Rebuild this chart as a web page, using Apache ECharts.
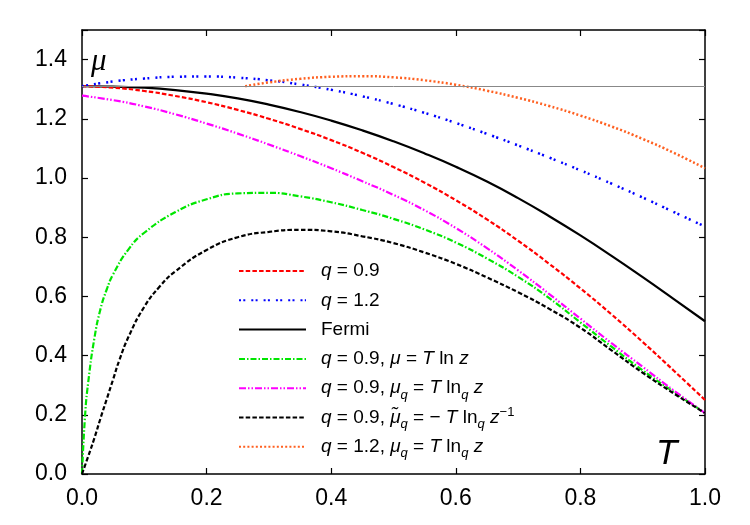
<!DOCTYPE html>
<html>
<head>
<meta charset="utf-8">
<script src="https://cdn.jsdelivr.net/npm/echarts@6/dist/echarts.min.js"></script>
<style>
html,body{margin:0;padding:0;background:#fff;}
#chart{width:750px;height:525px;}
</style>
</head>
<body>
<div id="chart"></div>
<script>
// ---------- data ----------
const fermiLevel = 1.311;
const T_main = [0,0.05,0.1,0.15,0.2,0.25,0.3,0.35,0.4,0.45,0.5,0.55,0.6,0.65,0.7,0.75,0.8,0.85,0.9,0.95,1.0];
const mu_q09   = [1.310,1.305,1.294,1.277,1.256,1.230,1.200,1.166,1.128,1.085,1.037,0.984,0.925,0.860,0.788,0.710,0.627,0.539,0.446,0.349,0.250];
const mu_q12   = [1.310,1.326,1.336,1.342,1.343,1.339,1.330,1.316,1.298,1.276,1.250,1.220,1.186,1.149,1.110,1.069,1.026,0.981,0.934,0.885,0.836];
const mu_fermi = [1.310,1.309,1.305,1.297,1.285,1.269,1.248,1.223,1.194,1.161,1.124,1.083,1.038,0.988,0.932,0.871,0.806,0.737,0.665,0.591,0.516];
const mu_q09_muq = [1.278,1.263,1.242,1.215,1.184,1.150,1.113,1.074,1.033,0.989,0.943,0.891,0.831,0.763,0.688,0.608,0.525,0.442,0.362,0.282,0.206];

const T_green = [0,0.005,0.01,0.02,0.03,0.04,0.05,0.075,0.1,0.15,0.2,0.25,0.3,0.35,0.4,0.45,0.5,0.55,0.6,0.65,0.7,0.75,0.8,0.85,0.9,0.95,1.0];
const mu_q09_lnz = [0.0,0.20,0.31,0.46,0.56,0.625,0.675,0.760,0.815,0.885,0.928,0.948,0.950,0.938,0.918,0.892,0.862,0.826,0.782,0.728,0.666,0.594,0.512,0.430,0.350,0.277,0.206];

const T_tilde = [0,0.01,0.02,0.03,0.04,0.05,0.06,0.075,0.1,0.125,0.15,0.2,0.25,0.3,0.35,0.4,0.45,0.5,0.55,0.6,0.65,0.7,0.75,0.8,0.85,0.9,0.95,1.0];
const mu_q09_tilde = [0.0,0.06,0.122,0.19,0.255,0.32,0.385,0.465,0.565,0.634,0.685,0.757,0.800,0.818,0.825,0.820,0.803,0.780,0.748,0.710,0.664,0.614,0.558,0.494,0.418,0.342,0.272,0.206];

const T_orange = [0.262,0.3,0.35,0.4,0.45,0.5,0.55,0.6,0.65,0.7,0.75,0.8,0.85,0.9,0.95,1.0];
const mu_q12_muq = [1.310,1.323,1.335,1.342,1.344,1.340,1.330,1.315,1.295,1.271,1.243,1.211,1.174,1.132,1.085,1.033];

const xTicks = [0,0.2,0.4,0.6,0.8,1.0];
const yTicks = [0,0.2,0.4,0.6,0.8,1.0,1.2,1.4];

const names = ['q09','q12','fermi','q09lnz','q09muq','q09tilde','q12muq'];
const legendText = {
  q09: '{s| }{i|q} = 0.9',
  q12: '{s| }{i|q} = 1.2',
  fermi: '{s| }Fermi',
  q09lnz: '{s| }{i|q} = 0.9, {i|μ} = {i|T} ln {i|z}',
  q09muq: '{s| }{i|q} = 0.9, {i|μ}{sub|q} = {i|T} ln{sub|q} {i|z}',
  q09tilde: '{s| }{i|q} = 0.9, {i|μ̃}{sub|q} = − {i|T} ln{sub|q} {i|z}{sup|−1}',
  q12muq: '{s| }{i|q} = 1.2, {i|μ}{sub|q} = {i|T} ln{sub|q} {i|z}'
};

// ---------- build ----------
const pairs = (xs, ys) => xs.map((x, i) => [x, ys[i]]);
const FONT = 'Liberation Sans';

function lineSeries(name, xs, ys, color, type, width, extra) {
  return Object.assign({
    name: name, type: 'line', data: pairs(xs, ys), xAxisIndex: 0, yAxisIndex: 0,
    showSymbol: false, symbol: 'none', smooth: 0.5, animation: false, silent: true,
    lineStyle: { color: color, width: width, type: type, cap: 'butt' },
    itemStyle: { color: color }
  }, extra || {});
}

const chart = echarts.init(document.getElementById('chart'), null, { renderer: 'canvas' });
const fmt1 = v => (Math.abs(v * 5 - Math.round(v * 5)) < 1e-6 ? v.toFixed(1) : '');

const axisCommon = {
  axisLine: { show: true, onZero: false, lineStyle: { color: '#000', width: 1.5 } },
  axisTick: { show: true, inside: true, length: 6, lineStyle: { color: '#000', width: 1.2 } },
  splitLine: { show: false }
};

const option = {
  backgroundColor: '#fff',
  animation: false,
  grid: { left: 82, right: 45, top: 30, bottom: 51, containLabel: false },
  xAxis: [
    Object.assign({ type: 'value', min: 0, max: 1, interval: 0.2, position: 'bottom',
      axisLabel: { formatter: fmt1, color: '#000', fontSize: 23, fontFamily: FONT, margin: 13 } }, axisCommon),
    Object.assign({ type: 'value', min: 0, max: 1, interval: 0.2, position: 'top',
      axisLabel: { show: false } }, axisCommon)
  ],
  yAxis: [
    Object.assign({ type: 'value', min: 0, max: 1.5, interval: 0.2, position: 'left',
      axisLabel: { formatter: fmt1, color: '#000', fontSize: 23, fontFamily: FONT, margin: 15 } }, axisCommon),
    Object.assign({ type: 'value', min: 0, max: 1.5, interval: 0.2, position: 'right',
      axisLabel: { show: false } }, axisCommon)
  ],
  legend: {
    data: names, orient: 'vertical', left: 238, top: 257, padding: 0,
    itemWidth: 67, itemHeight: 14, itemGap: 1.3, selectedMode: false,
    itemStyle: { opacity: 0, borderWidth: 0 },
    formatter: n => legendText[n],
    textStyle: {
      fontSize: 19, fontFamily: FONT, color: '#000', lineHeight: 28,
      rich: {
        s: { width: 10, fontSize: 19, lineHeight: 28 },
        i: { fontStyle: 'italic', fontSize: 19, fontFamily: FONT, lineHeight: 28 },
        sub: { fontStyle: 'italic', fontSize: 13, fontFamily: FONT, lineHeight: 13, padding: [14, 0, 0, 0] },
        sup: { fontSize: 13, fontFamily: FONT, lineHeight: 13, padding: [0, 0, 10, 0] }
      }
    }
  },
  graphic: [
    { type: 'text', left: 91, top: 46, silent: true,
      style: { text: 'μ', font: 'italic 31px "Liberation Serif"', fill: '#000' } },
    { type: 'text', left: 656, top: 437, silent: true,
      style: { text: 'T', font: 'italic 35px "Liberation Sans"', fill: '#000' } }
  ],
  series: [
    lineSeries('fermi', T_main, mu_fermi, '#000000', 'solid', 2.2, {
      markLine: { silent: true, symbol: 'none', label: { show: false }, animation: false,
        lineStyle: { color: '#888888', width: 1, type: 'solid' },
        data: [{ yAxis: fermiLevel }] }
    }),
    lineSeries('q09', T_main, mu_q09, '#ff0000', [4.5, 2.2], 2.2),
    lineSeries('q12', T_main, mu_q12, '#0000ff', [2, 2.3, 2, 6], 2.5),
    lineSeries('q09lnz', T_green, mu_q09_lnz, '#00e600', [6, 2, 1.5, 2], 2.2),
    lineSeries('q09muq', T_main, mu_q09_muq, '#ff00ff', [7, 2, 1.5, 2, 1.5, 2], 2.2),
    lineSeries('q09tilde', T_tilde, mu_q09_tilde, '#000000', [4.5, 2.2], 2.2),
    lineSeries('q12muq', T_orange, mu_q12_muq, '#ff6020', [2, 2.2], 2.5)
  ]
};
chart.setOption(option);
</script>
</body>
</html>
